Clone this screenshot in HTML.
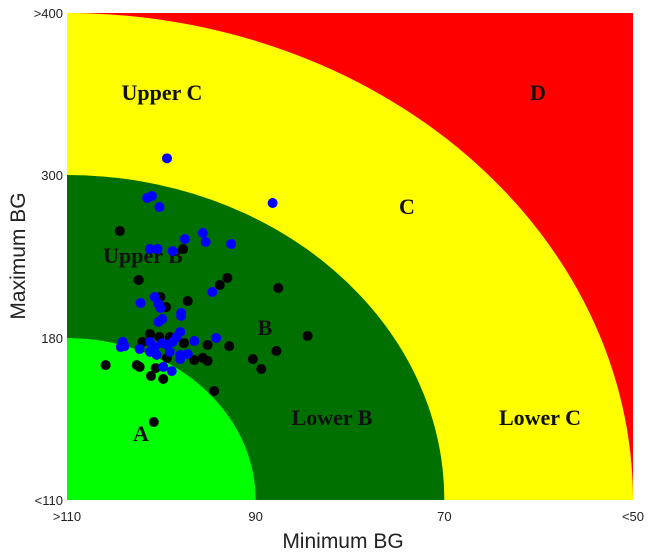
<!DOCTYPE html>
<html><head><meta charset="utf-8"><style>
body{margin:0;background:#fff;}
svg{display:block;font-family:"Liberation Sans",sans-serif;}
.zl{font-family:"Liberation Serif",serif;font-weight:bold;font-size:22px;fill:#111;}
</style></head><body>
<svg id="chart" width="650" height="553">
<g id="zones"></g>
<g id="ticks"></g>
<g id="labels">
<text class="zl" x="162" y="100" text-anchor="middle">Upper C</text>
<text class="zl" x="538" y="100" text-anchor="middle">D</text>
<text class="zl" x="407" y="214" text-anchor="middle">C</text>
<text class="zl" x="143" y="263" text-anchor="middle">Upper B</text>
<text class="zl" x="265" y="335" text-anchor="middle">B</text>
<text class="zl" x="332" y="425" text-anchor="middle">Lower B</text>
<text class="zl" x="540" y="425" text-anchor="middle">Lower C</text>
<text class="zl" x="141" y="441" text-anchor="middle">A</text>
</g>
<g id="points"></g>
<text x="343" y="548" font-size="21" text-anchor="middle" fill="#222">Minimum BG</text>
<text x="0" y="0" font-size="21" text-anchor="middle" fill="#222" transform="translate(25,256) rotate(-90)">Maximum BG</text>
</svg>
<script>
const xTickVals=[110,90,70,50];
const xTickLabels=[">110","90","70","<50"];
const yTickVals=[110,180,300,400];
const yTickLabels=["<110","180","300",">400"];
const blackX=[104.4,97.7,102.4,93.0,93.8,87.6,100.1,99.5,97.2,101.2,102.0,100.2,99.1,97.6,95.1,92.8,84.5,87.8,90.3,89.4,96.5,95.6,95.1,99.4,105.9,102.6,102.3,100.6,101.1,99.8,94.4,100.8];
const blackY=[258.8,245.5,222.7,224.2,219.0,216.8,210.2,202.8,207.2,182.9,178.3,180.7,180.7,177.8,177.0,176.5,181.5,174.4,170.9,166.6,170.5,171.4,170.1,171.4,168.3,168.3,167.5,167.0,163.6,162.3,157.1,143.7];
const blueX=[99.4,101.5,101.0,100.2,88.2,97.5,95.6,95.3,92.6,101.2,100.4,98.8,94.6,102.2,100.7,100.3,100.1,97.9,97.9,99.9,100.3,98.0,94.2,96.5,104.1,104.3,103.9,102.3,101.2,100.7,99.9,99.4,98.8,98.4,101.2,100.5,99.1,98.0,97.2,98.0,99.8,98.9];
const blueY=[310.3,283.1,284.5,276.4,279.4,252.9,257.3,250.7,249.2,245.5,245.5,244.0,213.9,205.8,210.2,205.0,202.1,198.4,196.2,194.0,191.8,184.4,180,178.7,178.3,176.1,176.5,175.2,178.3,176.1,177.8,177.0,178.3,180.7,174.0,172.7,174.0,172.7,173.1,170.9,167.5,165.7];
const NS="http://www.w3.org/2000/svg";
const X0=67,X1=633,Y0=500,Y1=13;
function sx(v){return X0+(110-v)/60*(X1-X0);}
function sy(v){
  if(v<=180) return 500-(v-110)/70*162;
  if(v<=300) return 338-(v-180)/120*163;
  return 175-(v-300)/100*162;
}
function mk(tag,attrs,parent){const e=document.createElementNS(NS,tag);for(const k in attrs)e.setAttribute(k,attrs[k]);parent.appendChild(e);return e;}
const zones=document.getElementById('zones');
let r=mk('rect',{x:X0,y:Y1,width:X1-X0,height:Y0-Y1,fill:'#ff0000'},zones);


const ells=[[50,400,'#ffff00','zone-c'],[70,300,'#007000','zone-b'],[90,180,'#00ff00','zone-a']];
ells.forEach(e=>{
  const rx=sx(e[0])-X0, ry=Y0-sy(e[1]);
  const p=mk('path',{d:`M${X0},${Y0} L${X0+rx},${Y0} A${rx},${ry} 0 0 0 ${X0},${Y0-ry} Z`,fill:e[2]},zones);
  
  
});
const ticks=document.getElementById('ticks');
xTickVals.forEach((v,i)=>{
  const t=mk('text',{x:sx(v),y:521,'font-size':13,'text-anchor':'middle',fill:'#222'},ticks);
  t.textContent=xTickLabels[i];
  
  
});
yTickVals.forEach((v,i)=>{
  const t=mk('text',{x:63,y:sy(v)+5,'font-size':13,'text-anchor':'end',fill:'#222'},ticks);
  t.textContent=yTickLabels[i];
  
  
});
const pts=document.getElementById('points');
blackX.forEach((v,i)=>{
  const c=mk('circle',{cx:sx(v),cy:sy(blackY[i]),r:5,fill:'#000'},pts);
  
  
});
blueX.forEach((v,i)=>{
  const c=mk('circle',{cx:sx(v),cy:sy(blueY[i]),r:5,fill:'#0000ff'},pts);
  
  
});
</script>
</body></html>
